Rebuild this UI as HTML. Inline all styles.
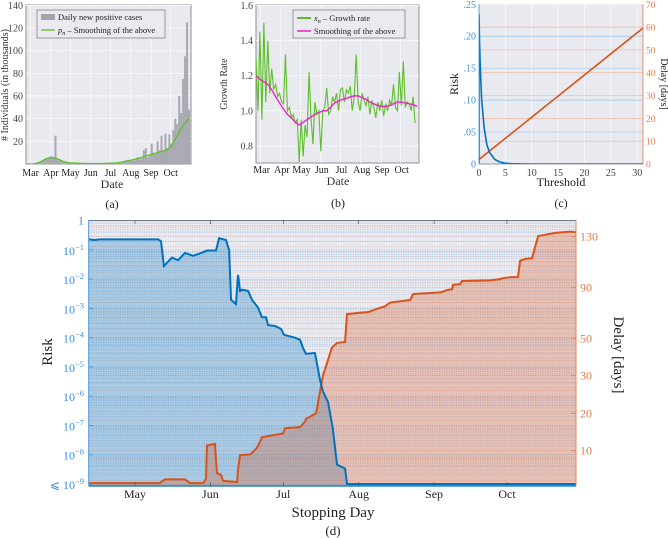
<!DOCTYPE html>
<html><head><meta charset="utf-8">
<style>
body{margin:0;background:#fff;}
svg{display:block;font-family:"Liberation Serif","DejaVu Serif",serif;}
</style></head>
<body>
<svg id="fig" width="668" height="538" viewBox="0 0 668 538" xmlns="http://www.w3.org/2000/svg">
<defs>
<clipPath id="clipA"><rect x="26" y="5" width="165" height="159"/></clipPath>
<clipPath id="clipB"><rect x="256" y="5" width="163" height="158"/></clipPath>
<clipPath id="clipC"><rect x="479" y="4" width="164" height="160"/></clipPath>
<clipPath id="clipD"><rect x="88.7" y="220" width="487.3" height="266"/></clipPath>
</defs>
</svg>
<script>
// ---------- Panel (a) data ----------
const aMonths=["Mar","Apr","May","Jun","Jul","Aug","Sep","Oct"];
const aMonthDays=[7,38,68,99,129,160,191,221];
const aYTicks=[20,40,60,80,100,120,140];
const aCases=[0,0,0,0.2,0.5,1,1.5,2,3,3.5,4,5,6,7,6,25,5,4,3,2.5,2,1.5,1,1,0.8,0.7,0.6,0.5,0.5,0.4,0.4,0.3,0.3,0.3,0.3,0.3,0.3,0.3,0.3,0.3,0.4,0.4,0.5,0.5,0.6,0.7,0.8,1,1.2,1.5,2,2.5,3,3,4,3,5,6,4,5,12,14,6,8,18,10,9,20,12,25,11,27,14,26,18,30,40,35,60,45,75,95,125,48];
const aSmooth=[0,0,0,0,0.2,0.5,1,1.5,2.5,3.5,4.5,5,5.5,5.5,5.5,5.2,4.5,3.8,3,2.3,1.8,1.4,1.1,1,0.9,0.8,0.7,0.6,0.5,0.5,0.4,0.4,0.4,0.4,0.4,0.4,0.4,0.4,0.4,0.4,0.5,0.5,0.6,0.7,0.8,0.9,1,1.2,1.5,1.8,2.2,2.6,3,3.3,3.6,4,4.4,4.8,5.3,5.8,6.5,7,7.5,8,8.5,9,9.5,10,10.5,11,11.5,12,13,14,16,19,22,25,28,31,34,36,38,40];
// ---------- Panel (b) data ----------
const bYTicks=[0.8,1.0,1.2,1.4,1.6];
const bGrowth=[1.3,1.0,1.45,0.95,1.5,1.05,1.4,1.1,1.24,1.12,1.15,1.08,1.1,1.05,1.04,1.32,1.0,1.02,0.96,0.98,0.93,0.95,0.71,0.95,0.74,0.92,0.85,1.22,0.96,0.81,1.05,0.98,1.0,0.77,1.0,1.02,1.13,0.98,1.0,1.08,1.05,1.1,1.0,1.12,1.13,1.05,1.12,1.1,1.14,1.0,1.08,1.32,1.05,1.0,1.1,1.06,1.03,1.08,0.98,1.06,1.02,0.96,1.05,1.0,1.06,0.97,1.04,1.0,1.06,1.03,1.15,1.02,1.0,1.22,1.03,1.28,1.02,1.05,1.04,1.0,1.08,0.93];
const bSmooth=[1.2,1.18,1.165,1.15,1.12,1.08,1.045,1.01,0.98,0.96,0.935,0.92,0.935,0.95,0.965,0.98,0.99,1.0,1.0,1.02,1.045,1.055,1.065,1.07,1.08,1.085,1.085,1.075,1.065,1.05,1.04,1.03,1.025,1.025,1.03,1.04,1.05,1.05,1.045,1.04,1.035,1.025];
// ---------- Panel (c) data ----------
const cXTicks=[0,5,10,15,20,25,30];
const cRiskTicks=[0,0.05,0.10,0.15,0.20,0.25];
const cRiskTickLabels=["0",".05",".10",".15",".20",".25"];
const cDelayTicks=[0,10,20,30,40,50,60,70];
const cThr=[0,0,0.1,0.25,0.5,1,1.5,2,3,4,5,6,8,10,32];
const cRisk=[0,0.235,0.19,0.15,0.1,0.055,0.03,0.018,0.007,0.003,0.0012,0.0005,0.0001,0,0];
const cDelayThr=[0,31.6];
const cDelay=[2,60.5];
// ---------- Panel (d) data ----------
const dMonths=["May","Jun","Jul","Aug","Sep","Oct"];
const dMonthDays=[30,61,91,122,153,183];
const dDelayTicks=[10,20,30,50,90,130];
const dRiskDays=[11,13.5,15.6,39.5,40.7,41.9,45.2,47.7,50.6,53.9,56.7,59.6,63.3,64.6,67.4,68.7,69.5,71.5,72.4,73.2,74,76.5,78.1,80.6,82.2,83.9,84.7,87.6,90.1,91.3,95.8,97.9,99.1,100.3,104,106.1,107.3,109.4,111.4,113.1,116.4,117.2,211.4];
const dRiskLog10=[-0.64,-0.66,-0.64,-0.64,-0.7,-1.55,-1.26,-1.35,-1.1,-1.2,-1.12,-1.02,-1.02,-0.6,-0.66,-1.0,-2.7,-2.85,-1.85,-2.4,-2.36,-2.4,-2.7,-2.97,-3.3,-3.3,-3.57,-3.6,-3.7,-3.9,-4.0,-4.07,-4.35,-4.55,-4.52,-5.44,-5.84,-6.2,-7.14,-8.34,-8.47,-9,-9];
const dDelayDays=[11,40.3,40.7,42.3,50.6,52.6,58,59.2,59.6,62.9,63.7,65.4,66.2,72,72.4,73.2,77.3,78.1,79.8,80.6,82.2,85.5,90.9,91.7,97.9,99.9,100.3,104.5,105.3,107.3,109,111,113.1,116.4,117.2,122.5,125.8,130.8,132.8,134.9,139,143.1,144.4,151.3,155.5,158.8,160.4,160.8,163.7,164.5,176,180.1,182.2,185.1,187.5,188.4,190.4,193.3,195.8,202.8,209,211.4];
const dDelay=[1.3,1.3,1.6,2.3,2.3,1.3,1.3,2.4,11.4,11.8,4,3.5,1.9,1.6,5,8.8,9,9.4,10.5,11.3,13.6,14,14.6,16,16.3,17.8,18.5,20,22.9,30,36.7,45,47.5,48,69,70,70.5,74,75,78,79,80,84.7,85.5,86,88,88.5,92,92.5,95,95.5,96.5,97.5,98,98,111,112.5,113,130.5,133,134,133.5];

const NS="http://www.w3.org/2000/svg";
const svg=document.getElementById('fig');
function mk(tag,attrs,parent){const e=document.createElementNS(NS,tag);for(const k in attrs)e.setAttribute(k,attrs[k]);(parent||svg).appendChild(e);return e;}
function txt(x,y,s,size,fill,anchor,parent){const t=mk('text',{x:x,y:y,'font-size':size,fill:fill||'#222','text-anchor':anchor||'middle'},parent);t.textContent=s;return t;}
function lin(d0,d1,p0,p1){return v=>p0+(v-d0)*(p1-p0)/(d1-d0);}
function pts(xs,ys,fx,fy){return xs.map((x,i)=>fx(x).toFixed(2)+','+fy(ys[i]).toFixed(2)).join(' ');}

// ================= Panel (a) =================
const ax=lin(0,252,26,191), ay=lin(0,140,164,5.3);
let g=mk('g',{});


let r=mk('rect',{x:26,y:5,width:165,height:159,fill:'#e9e9f0',stroke:'#777','stroke-width':0.8},g);


aYTicks.forEach(v=>{mk('line',{x1:26,x2:191,y1:ay(v),y2:ay(v),stroke:'#fff','stroke-width':0.6},g);
 txt(23,ay(v)+3.5,String(v),10,'#444','end',g);});
aMonthDays.forEach((d,i)=>{mk('line',{x1:ax(d),x2:ax(d),y1:5,y2:164,stroke:'#fff','stroke-width':0.6},g);
 txt(ax(d),176,aMonths[i],10,'#222','middle',g);});
let ga=mk('g',{'clip-path':'url(#clipA)'},g);
aCases.forEach((v,i)=>{const b=mk('rect',{x:ax(i*3)-1,y:ay(v),width:2,height:164-ay(v),fill:'#a8a8b0'},ga);
 
 });
let pa=mk('polyline',{points:pts(aSmooth.map((v,i)=>i*3),aSmooth,ax,ay),fill:'none',stroke:'#5cbf2a','stroke-width':1.3},ga);


let la=mk('g',{},g);


mk('rect',{x:37,y:10,width:128,height:28,fill:'#eaeaf0',stroke:'#666','stroke-width':0.6},la);
mk('rect',{x:41,y:14,width:14,height:6,fill:'#a3a3ab'},la);
txt(58,20,'Daily new positive cases',8.5,'#222','start',la);
mk('line',{x1:41,x2:55,y1:30,y2:30,stroke:'#5cbf2a','stroke-width':1.3},la);
let t1=txt(58,33,'',8.5,'#222','start',la);t1.innerHTML='<tspan font-style="italic">p</tspan><tspan font-style="italic" font-size="6" dy="2">n</tspan><tspan dy="-2"> – Smoothing of the above</tspan>';
let yl=txt(0,0,'# Individuals (in thousands)',10,'#333','middle',g);yl.setAttribute('transform','translate(8,85) rotate(-90)');


txt(112,188,'Date',12,'#333','middle',g);
txt(112,208,'(a)',12,'#222','middle',g);

// ================= Panel (b) =================
const bx=lin(0,252,256,421), by=lin(0.7,1.6,163.6,5.3);
g=mk('g',{});


mk('rect',{x:256,y:5,width:163,height:158,fill:'#e9e9f0',stroke:'#777','stroke-width':0.8},g);
bYTicks.forEach(v=>{mk('line',{x1:256,x2:419,y1:by(v),y2:by(v),stroke:'#fff','stroke-width':0.6},g);
 txt(253,by(v)+3.5,v.toFixed(1),10,'#444','end',g);});
aMonthDays.forEach((d,i)=>{mk('line',{x1:bx(d),x2:bx(d),y1:5,y2:163,stroke:'#fff','stroke-width':0.6},g);
 txt(bx(d)+1,173,aMonths[i],10,'#222','middle',g);});
let gb=mk('g',{'clip-path':'url(#clipB)'},g);
let pb=mk('polyline',{points:pts(bGrowth.map((v,i)=>i*3),bGrowth,bx,by),fill:'none',stroke:'#5cbf2a','stroke-width':1.1},gb);


let pb2=mk('polyline',{points:pts(bSmooth.map((v,i)=>i*6),bSmooth,bx,by),fill:'none',stroke:'#f022c8','stroke-width':1.4},gb);


let lb=mk('g',{},g);


mk('rect',{x:293,y:10,width:112,height:28,fill:'#eaeaf0',stroke:'#666','stroke-width':0.6},lb);
mk('line',{x1:297,x2:311,y1:18,y2:18,stroke:'#5cbf2a','stroke-width':2},lb);
let t2=txt(314,21,'',8.5,'#222','start',lb);t2.innerHTML='<tspan font-style="italic">x</tspan><tspan font-style="italic" font-size="6" dy="2">n</tspan><tspan dy="-2"> – Growth rate</tspan>';
mk('line',{x1:297,x2:311,y1:31,y2:31,stroke:'#f022c8','stroke-width':1.5},lb);
txt(314,34,'Smoothing of the above',8.5,'#222','start',lb);
let yb=txt(0,0,'Growth Rate',10,'#333','middle',g);yb.setAttribute('transform','translate(227,84) rotate(-90)');


txt(338,185,'Date',12,'#333','middle',g);
txt(338,207,'(b)',12,'#222','middle',g);

// ================= Panel (c) =================
const cx=lin(0,31.1,479,643), cyR=lin(0,0.25,164,4.3), cyD=lin(0,70,164,4.3);
g=mk('g',{});


mk('rect',{x:479,y:4.3,width:164,height:159.7,fill:'#e9e9f0'},g);
cXTicks.forEach(v=>{mk('line',{x1:cx(v),x2:cx(v),y1:4.3,y2:164,stroke:'#fff','stroke-width':0.6},g);
 txt(cx(v),176,String(v),10,'#444','middle',g);});
cRiskTicks.forEach((v,i)=>{if(v>0&&v<0.25)mk('line',{x1:479,x2:643,y1:cyR(v),y2:cyR(v),stroke:'#9cc6ec','stroke-width':0.7},g);
 txt(476,cyR(v)+3.5,cRiskTickLabels[i],10,'#3d8fd6','end',g);});
cDelayTicks.forEach(v=>{if(v>0&&v<70)mk('line',{x1:479,x2:643,y1:cyD(v),y2:cyD(v),stroke:'#f0b9a0','stroke-width':0.7},g);
 txt(646,cyD(v)+3.5,String(v),9.5,'#e57a45','start',g);});
let gc=mk('g',{'clip-path':'url(#clipC)'},g);
let pc2=mk('polyline',{points:pts(cDelayThr,cDelay,cx,cyD),fill:'none',stroke:'#d95319','stroke-width':1.6},gc);


let pc=mk('polyline',{points:pts(cThr,cRisk,cx,cyR),fill:'none',stroke:'#0072bd','stroke-width':1.6},gc);


mk('line',{x1:479,x2:479,y1:4.3,y2:164,stroke:'#3d8fd6','stroke-width':0.8},g);
mk('line',{x1:643,x2:643,y1:4.3,y2:164,stroke:'#e57a45','stroke-width':0.8},g);
mk('line',{x1:479,x2:643,y1:164,y2:164,stroke:'#777','stroke-width':0.8},g);
let yc=txt(0,0,'Risk',12,'#222','middle',g);yc.setAttribute('transform','translate(458,84) rotate(-90)');
let yc2=txt(0,0,'Delay [days]',10,'#222','middle',g);yc2.setAttribute('transform','translate(661,84) rotate(90)');
txt(561,186,'Threshold',12,'#222','middle',g);
txt(561,207,'(c)',12,'#222','middle',g);

// ================= Panel (d) =================
const dx=lin(30,183,135,507);
const dyR=lin(0,-9,220.7,484);
const delayPx=[[0,488],[10,450.7],[20,413.3],[30,375.3],[50,338.3],[90,287.3],[130,236.7],[150,211.4]];
function dyD(v){for(let i=0;i<delayPx.length-1;i++){const a=delayPx[i],b=delayPx[i+1];if(v<=b[0])return a[1]+(v-a[0])*(b[1]-a[1])/(b[0]-a[0]);}return 211;}
g=mk('g',{});


mk('rect',{x:88.7,y:220,width:487.3,height:266,fill:'#e9e9f0'},g);
let gd=mk('g',{'clip-path':'url(#clipD)'},g);
for(let d=0;d<9;d++){for(let k=1;k<=9;k++){const y=dyR(-d-1+Math.log10(k));
 mk('line',{x1:88.7,x2:576,y1:y,y2:y,stroke:k==1?'#6aa6dc':'#8fbde6','stroke-width':0.5,'stroke-dasharray':'1.2,1.2'},gd);}}
for(let v=2;v<140;v+=(v<30?2:4)){const y=dyD(v);
 mk('line',{x1:88.7,x2:576,y1:y,y2:y,stroke:'#e8a58a','stroke-width':0.45,'stroke-dasharray':'1.2,1.2'},gd);}
const rp=pts(dRiskDays,dRiskLog10,dx,dyR);
let rf=mk('polygon',{points:dx(dRiskDays[0])+',486 '+rp+' '+dx(dRiskDays[dRiskDays.length-1])+',486',fill:'rgba(0,114,189,0.27)'},gd);


const dp=pts(dDelayDays,dDelay,dx,dyD);
let df=mk('polygon',{points:dx(dDelayDays[0])+',486 '+dp+' '+dx(dDelayDays[dDelayDays.length-1])+',486',fill:'rgba(217,83,25,0.27)'},gd);


let dl=mk('polyline',{points:dp,fill:'none',stroke:'#d95319','stroke-width':2},gd);


let rl=mk('polyline',{points:rp,fill:'none',stroke:'#0072bd','stroke-width':2},gd);


mk('line',{x1:88.7,x2:576,y1:220.5,y2:220.5,stroke:'#555','stroke-width':0.8},g);
mk('line',{x1:88.7,x2:88.7,y1:220,y2:486,stroke:'#3d8fd6','stroke-width':0.9},g);
mk('line',{x1:576,x2:576,y1:220,y2:486,stroke:'#e57a45','stroke-width':0.9},g);
mk('line',{x1:88.7,x2:576,y1:486,y2:486,stroke:'#0072bd','stroke-width':1.2},g);
dMonthDays.forEach((d,i)=>{mk('line',{x1:dx(d),x2:dx(d),y1:486,y2:482,stroke:'#555','stroke-width':0.7},g);
 mk('line',{x1:dx(d),x2:dx(d),y1:220,y2:224,stroke:'#555','stroke-width':0.7},g);
 txt(dx(d),498,dMonths[i],12,'#222','middle',g);});
for(let e=0;e<=9;e++){const y=dyR(-e);
 mk('line',{x1:88.7,x2:93,y1:y,y2:y,stroke:'#3d8fd6','stroke-width':0.8},g);
 let t;
 if(e==0){t=txt(84,y+4,'1',12,'#3d8fd6','end',g);}
 else{t=txt(84,y+5,'',12,'#3d8fd6','end',g);t.innerHTML=(e==9?'⩽ ':'')+'10<tspan font-size="8.5" dy="-5">−'+e+'</tspan>';}
 
 }
dDelayTicks.forEach(v=>{const y=dyD(v);
 mk('line',{x1:571,x2:576,y1:y,y2:y,stroke:'#e57a45','stroke-width':0.8},g);
 const t=txt(580,y+4,String(v),12,'#e57a45','start',g);
 
 });
let yd=txt(0,0,'Risk',15,'#222','middle',g);yd.setAttribute('transform','translate(52,352) rotate(-90)');


let yd2=txt(0,0,'Delay [days]',15,'#222','middle',g);yd2.setAttribute('transform','translate(614,355) rotate(90)');


let xd=txt(333,517,'Stopping Day',15,'#222','middle',g);


txt(333,535,'(d)',13,'#222','middle',g);
</script>
</body></html>
